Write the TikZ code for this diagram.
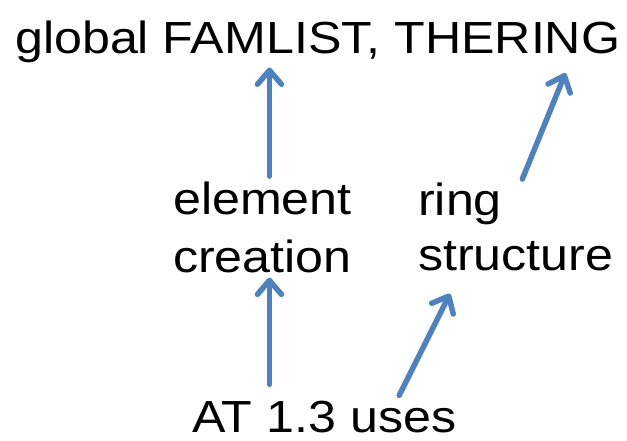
\documentclass[tikz,border=0pt]{standalone}
\usepackage{fontspec}
\setmainfont{Liberation Sans}[FakeStretch=1.115]
\usetikzlibrary{positioning,calc}
\usetikzlibrary{arrows.meta}

\definecolor{arrowblue}{HTML}{4F81BD}

\tikzset{
   label/.style={inner sep=5pt, anchor=base west, align=left,
      font=\fontsize{45}{58}\selectfont},
   flow/.style={draw=arrowblue, line width=5.5pt, line cap=round,
      -{Straight Barb[length=14pt,width=24pt,round]}},
}

\begin{document}
\begin{tikzpicture}[x=1pt, y=-1pt]
   \useasboundingbox (0,0) rectangle (627,440);

   \node[label] (title) at (10,53) {global FAMLIST, THERING};
   \node[label] (elem) at (168,272) {element\\creation};
   \node[label, font=\fontsize{45}{55}\selectfont] (ring) at (413,270)
      {ring\\structure};
   \node[label] (uses) at (187,432) {AT 1.3 uses};

   \draw[flow] ([xshift=7pt]elem.north) -- ([xshift=7pt]elem.north |- title.south);
   \draw[flow] ([shift={(6.5pt,-2pt)}]ring.north) -- ([shift={(-60pt,-5.5pt)}]title.south east);
   \draw[flow, shorten <=11pt] ([xshift=7pt]elem.south |- uses.north) -- ([xshift=7pt]elem.south);
   \draw[flow] ([xshift=75pt]uses.north) -- ([shift={(37pt,-18pt)}]ring.south west);
\end{tikzpicture}
\end{document}
